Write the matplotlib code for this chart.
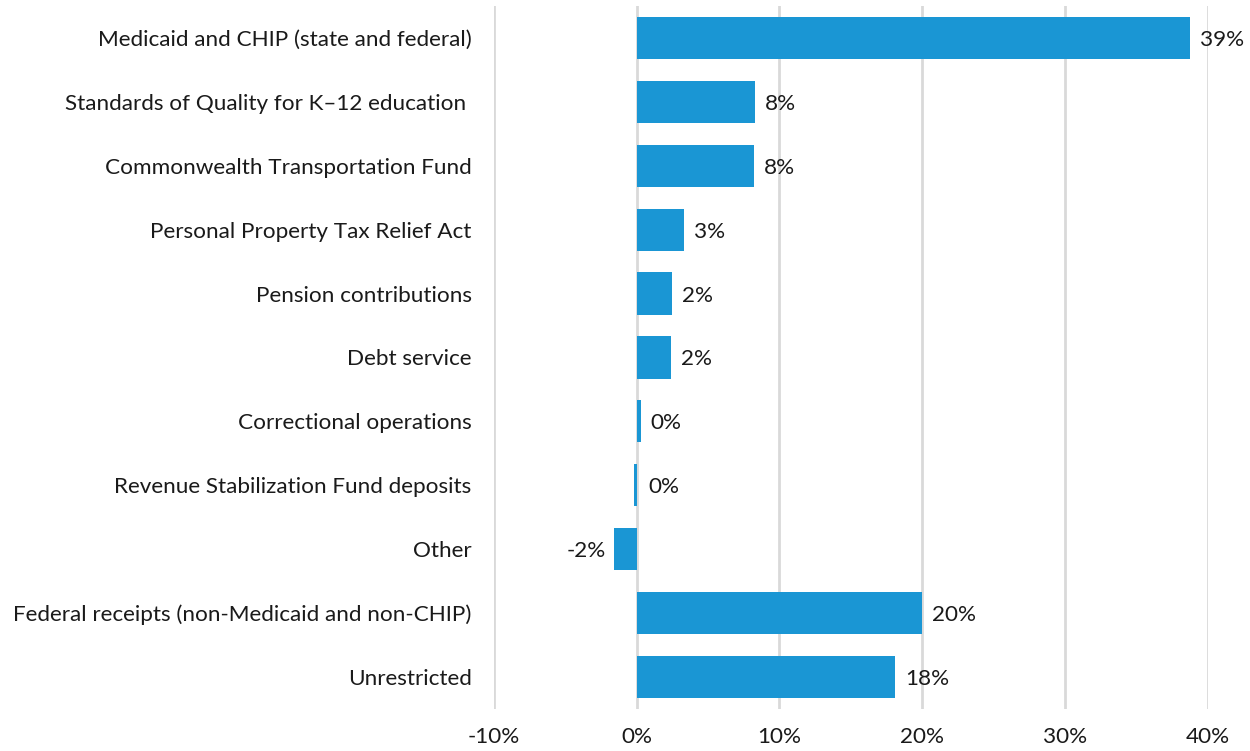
import matplotlib
matplotlib.use("Agg")
import matplotlib.pyplot as plt
from matplotlib.ticker import FuncFormatter
from matplotlib.transforms import offset_copy

plt.rcParams['font.family'] = ['Lato', 'DejaVu Sans']

categories = [
    "Medicaid and CHIP (state and federal)",
    "Standards of Quality for K\u201312 education ",
    "Commonwealth Transportation Fund",
    "Personal Property Tax Relief Act",
    "Pension contributions",
    "Debt service",
    "Correctional operations",
    "Revenue Stabilization Fund deposits",
    "Other",
    "Federal receipts (non-Medicaid and non-CHIP)",
    "Unrestricted",
]
values = [38.8, 8.3, 8.2, 3.3, 2.5, 2.4, 0.3, -0.15, -1.55, 20.0, 18.1]
value_labels = ["39%", "8%", "8%", "3%", "2%", "2%", "0%", "0%", "-2%", "20%", "18%"]
xticks = [-10, 0, 10, 20, 30, 40]

bar_color = "#1a96d4"
text_color = "#1a1a1a"
fs = 16.2

fig = plt.figure(figsize=(12.5, 7.51), dpi=100)
ax = fig.add_axes([0.395, 0.056, 0.571, 0.936])

y = list(range(len(categories)))
ax.barh(y, values, height=0.66, color=bar_color, zorder=3)

ax.set_xlim(-10, 40)
ax.set_ylim(10.5, -0.5)
ax.set_xticks(xticks)
ax.xaxis.set_major_formatter(FuncFormatter(lambda v, p: f"{v:.0f}%"))
ax.set_yticks(y)
ax.set_yticklabels(categories)
ax.tick_params(axis='both', length=0, labelsize=fs, colors=text_color)
ax.tick_params(axis='y', pad=16)
ax.tick_params(axis='x', pad=13)
ax.grid(axis='x', color='#d9d9d9', linewidth=2, zorder=0)
for s in ax.spines.values():
    s.set_visible(False)

for yi, v, lab in zip(y, values, value_labels):
    if v < -0.5:
        tr = offset_copy(ax.transData, fig=fig, x=-8, y=-2, units='dots')
        ax.text(v, yi, lab, transform=tr, ha='right', va='center',
                fontsize=fs, color=text_color, clip_on=False)
    else:
        tr = offset_copy(ax.transData, fig=fig, x=10, y=-2, units='dots')
        ax.text(max(v, 0) if v >= 0 else 0.1, yi, lab, transform=tr, ha='left', va='center',
                fontsize=fs, color=text_color, clip_on=False)

fig.savefig("out.png", dpi=100)
